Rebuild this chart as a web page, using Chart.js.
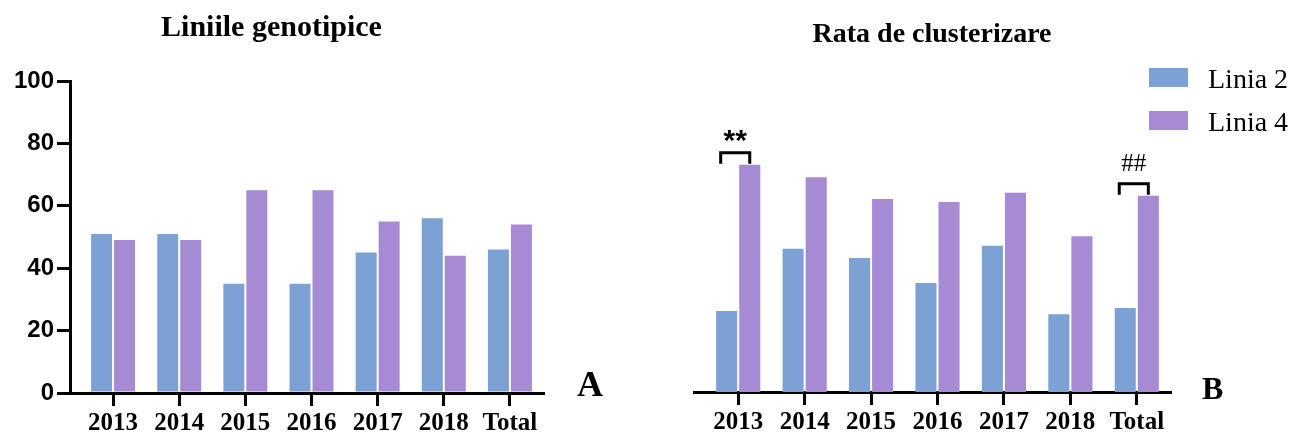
<!DOCTYPE html>
<html lang="ro">
<head>
<meta charset="UTF-8" />
<title>Liniile genotipice / Rata de clusterizare</title>
<script src="https://cdn.jsdelivr.net/npm/chart.js@4.4.0/dist/chart.umd.min.js"></script>
<style>
  body { margin: 0; background: #fff; }
  #wrap { position: relative; width: 1296px; height: 437px; overflow: hidden; }
  #chartA { position: absolute; left: 0; top: 0; }
  #chartB { position: absolute; left: 560px; top: 0; }
  #legend { position: absolute; left: 1149px; top: 58px; font-family: 'Liberation Serif', serif; font-size: 28px; color: #000; }
  #legend .row { display: flex; align-items: center; height: 39px; margin-bottom: 4px; }
  #legend .box { width: 39px; height: 19px; margin-right: 20px; }
  #legend .txt { padding-top: 2px; white-space: nowrap; }
</style>
</head>
<body>
<div id="wrap">
  <canvas id="chartA" width="612" height="437"></canvas>
  <canvas id="chartB" width="680" height="437"></canvas>
  <div id="legend"></div>
</div>
<script>
// values (percent)
const categories = ['2013', '2014', '2015', '2016', '2017', '2018', 'Total'];
const seriesNames = ['Linia 2', 'Linia 4'];
const genotipLinia2 = [51, 51, 35, 35, 45, 56, 46];
const genotipLinia4 = [49, 49, 65, 65, 55, 44, 54];
const clusterLinia2 = [26, 46, 43, 35, 47, 25, 27];
const clusterLinia4 = [73, 69, 62, 61, 64, 50, 63];
const yTicks = [0, 20, 40, 60, 80, 100];

const BLUE = '#7ba1d5';
const PURPLE = '#a68ad3';

// leave a small gap between the y axis and the first category (as in Prism)
const shiftStart = {
  id: 'shiftStart',
  afterLayout(chart, args, opts) {
    const x = chart.scales.x;
    x._startPixel = x.left + opts.gap;
    x._length = x._endPixel - x._startPixel;
  }
};

// panel letter + significance brackets
const panelNotes = {
  id: 'panelNotes',
  afterDatasetsDraw(chart, args, opts) {
    const ctx = chart.ctx;
    const area = chart.chartArea;
    ctx.save();
    ctx.fillStyle = '#000';
    ctx.strokeStyle = '#000';
    ctx.textBaseline = 'alphabetic';
    ctx.textAlign = 'left';
    ctx.font = opts.letterFont;
    ctx.fillText(opts.letter, area.right + opts.letterDx, area.bottom + opts.letterDy);
    (opts.marks || []).forEach(m => {
      const i = categories.indexOf(m.category);
      const a = chart.getDatasetMeta(0).data[i];
      const b = chart.getDatasetMeta(1).data[i];
      const top = Math.min(a.y, b.y);
      const x1 = a.x - 6, x2 = b.x;
      const yb = top - 12;
      ctx.lineWidth = 3;
      ctx.beginPath();
      ctx.moveTo(x1, top - 1);
      ctx.lineTo(x1, yb);
      ctx.lineTo(x2, yb);
      ctx.lineTo(x2, top - 1);
      ctx.stroke();
      ctx.font = m.font;
      ctx.textAlign = 'center';
      ctx.fillText(m.text, (x1 + x2) / 2, yb - m.gap);
    });
    ctx.restore();
  }
};

function makeDatasets(a, b) {
  return [
    { label: seriesNames[0], data: a, backgroundColor: BLUE, borderWidth: 0, categoryPercentage: 0.695, barPercentage: 0.913 },
    { label: seriesNames[1], data: b, backgroundColor: PURPLE, borderWidth: 0, categoryPercentage: 0.695, barPercentage: 0.913 }
  ];
}

function xScale(height) {
  return {
    offset: true,
    grid: { display: true, drawOnChartArea: false, offset: false, drawTicks: true, tickLength: 13, color: '#000', lineWidth: 3 },
    border: { display: true, color: '#000', width: 3 },
    ticks: { color: '#000', padding: 3, maxRotation: 0, autoSkip: false,
             font: { family: 'Liberation Serif', size: 25, weight: 'bold' } },
    afterFit: s => { s.height = height; }
  };
}

new Chart(document.getElementById('chartA'), {
  type: 'bar',
  data: { labels: categories, datasets: makeDatasets(genotipLinia2, genotipLinia4) },
  options: {
    responsive: false,
    animation: false,
    devicePixelRatio: 1,
    layout: { padding: { left: 0, right: 69, top: 0, bottom: 0 } },
    plugins: {
      legend: { display: false },
      tooltip: { enabled: false },
      title: {
        display: true,
        text: 'Liniile genotipice',
        color: '#000',
        font: { family: 'Liberation Serif', size: 30, weight: 'bold' },
        padding: { top: 10, bottom: 35 }
      },
      shiftStart: { gap: 10 },
      panelNotes: { letter: 'A', letterFont: 'bold 36px "Liberation Serif"', letterDx: 34, letterDy: 3, marks: [] }
    },
    scales: {
      x: xScale(44),
      y: {
        min: 0,
        max: 100,
        afterBuildTicks: s => { s.ticks = yTicks.map(v => ({ value: v })); },
        grid: { display: true, drawOnChartArea: false, drawTicks: true, tickLength: 13, color: '#000', lineWidth: 3 },
        border: { display: true, color: '#000', width: 3 },
        ticks: { color: '#000', padding: 3, font: { family: 'Liberation Sans', size: 24, weight: 'bold' } },
        afterFit: s => { s.width = 70; }
      }
    }
  },
  plugins: [shiftStart, panelNotes]
});

const chartB = new Chart(document.getElementById('chartB'), {
  type: 'bar',
  data: { labels: categories, datasets: makeDatasets(clusterLinia2, clusterLinia4) },
  options: {
    responsive: false,
    animation: false,
    devicePixelRatio: 1,
    layout: { padding: { left: 134, right: 70, top: 0, bottom: 0 } },
    plugins: {
      legend: { display: false },
      tooltip: { enabled: false },
      title: {
        display: true,
        text: 'Rata de clusterizare',
        color: '#000',
        font: { family: 'Liberation Serif', size: 28, weight: 'bold' },
        padding: { top: 18, bottom: 29 }
      },
      shiftStart: { gap: 11 },
      panelNotes: {
        letter: 'B', letterFont: 'bold 32px "Liberation Serif"', letterDx: 32, letterDy: 7,
        marks: [
          { category: '2013', text: '**', font: 'bold 30px "Liberation Sans"', gap: 3 },
          { category: 'Total', text: '##', font: '25px "Liberation Serif"', gap: 13 }
        ]
      }
    },
    scales: {
      x: xScale(45),
      y: { display: false, min: 0, max: 100 }
    }
  },
  plugins: [shiftStart, panelNotes]
});

// legend built from the datasets
const legendEl = document.getElementById('legend');
chartB.data.datasets.forEach(ds => {
  const row = document.createElement('div');
  row.className = 'row';
  const box = document.createElement('span');
  box.className = 'box';
  box.style.background = ds.backgroundColor;
  const txt = document.createElement('span');
  txt.className = 'txt';
  txt.textContent = ds.label;
  row.appendChild(box);
  row.appendChild(txt);
  legendEl.appendChild(row);
});
</script>
</body>
</html>
